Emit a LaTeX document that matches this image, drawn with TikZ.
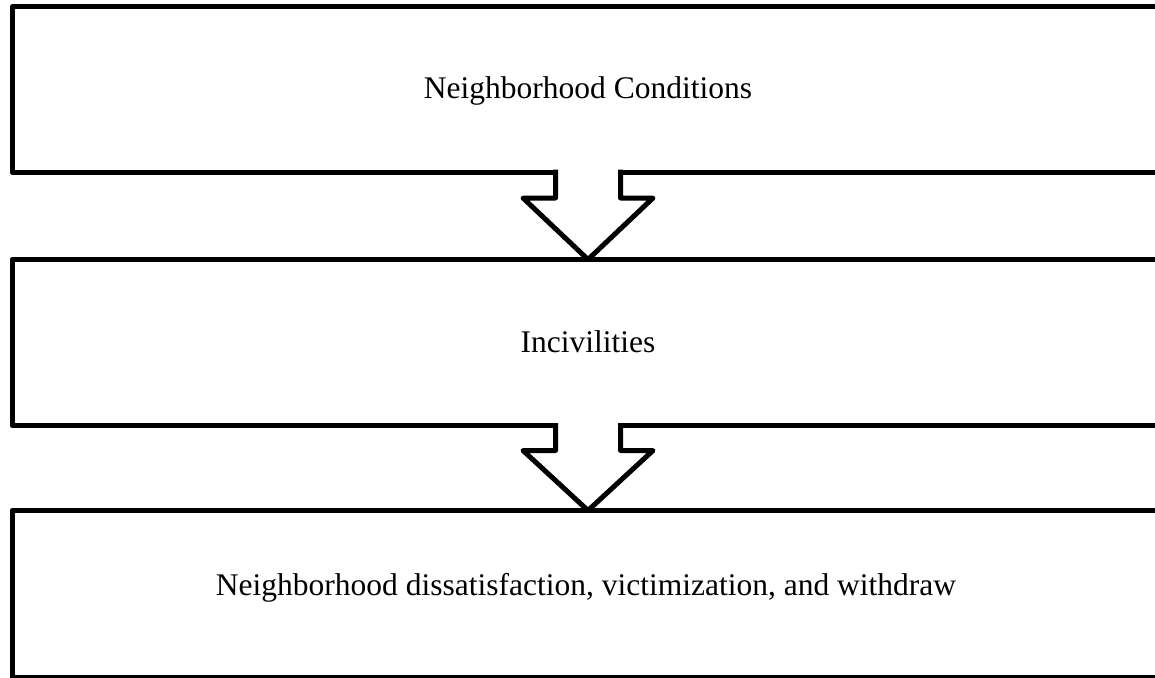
\documentclass[tikz,border=0pt]{standalone}
\usepackage{fontspec}
\setmainfont{Liberation Serif}
\usetikzlibrary{calc}
\tikzset{
  stage/.style={draw=black, line width=5pt, line join=round, fill=white,
    minimum width=1152pt, anchor=north west, inner sep=0pt, outer sep=0pt},
  blockarrow/.style={draw=black, fill=white, line width=5pt, line join=round},
  lbl/.style={font=\fontsize{31.5}{38}\selectfont, anchor=base, inner sep=0pt},
}
\begin{document}
\begin{tikzpicture}[x=1pt,y=-1pt]
\useasboundingbox (0,0) rectangle (1155,677);
\clip (0,0) rectangle (1155,677);
\node[stage, minimum height=165pt] (b1) at (12,7) {};
\node[stage, minimum height=166pt] (b2) at (12,259.5) {};
\node[stage, minimum height=166.5pt] (b3) at (12,510.5) {};
\node[lbl] (t1) at (588,98) {Neighborhood Conditions};
\node[lbl] (t2) at (588,352) {Incivilities};
\node[lbl] (t3) at (586,595) {Neighborhood dissatisfaction, victimization, and withdraw};
\draw[blockarrow] ($(b1.south)+(-32.5,-2.5)$) -- ($(b1.south)+(-32.5,26)$)
  -- ($(b1.south)+(-65,26)$) -- (b2.north) -- ($(b1.south)+(65,26)$)
  -- ($(b1.south)+(32.5,26)$) -- ($(b1.south)+(32.5,-2.5)$);
\draw[blockarrow] ($(b2.south)+(-32.5,-2.5)$) -- ($(b2.south)+(-32.5,25)$)
  -- ($(b2.south)+(-65,25)$) -- (b3.north) -- ($(b2.south)+(65,25)$)
  -- ($(b2.south)+(32.5,25)$) -- ($(b2.south)+(32.5,-2.5)$);
\end{tikzpicture}
\end{document}
